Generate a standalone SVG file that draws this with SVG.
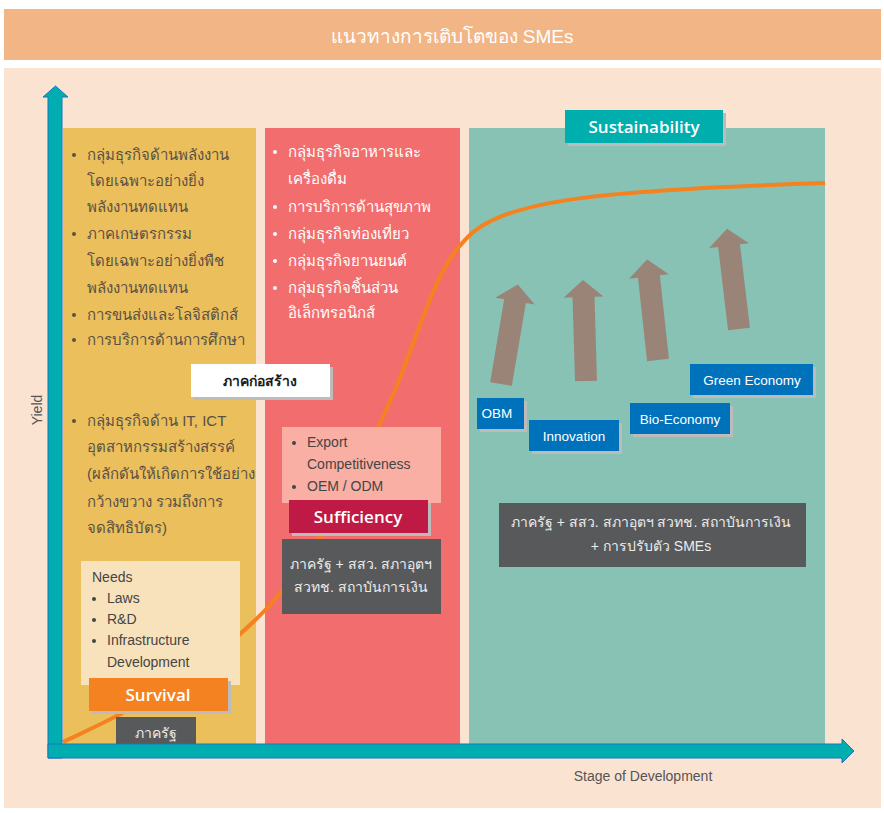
<svg xmlns="http://www.w3.org/2000/svg" xmlns:xlink="http://www.w3.org/1999/xlink" width="884" height="813" viewBox="0 0 884 813">
<style>
text{font-family:"Liberation Sans","Noto Sans",sans-serif;}
.c1{font-size:15px;fill:#5a5046;}
.c2{font-size:15px;fill:#ffffff;}
.nd{font-size:14px;fill:#454545;}
.lbl{font-size:17px;fill:#ffffff;text-anchor:middle;font-family:"Open Sans","Noto Sans",sans-serif;font-weight:600;}
.blue{fill:#0072BC;}
.bt{font-size:13.5px;fill:#ffffff;text-anchor:middle;}
.dk{fill:#58595B;}
.dt{font-size:14px;fill:#ececec;text-anchor:middle;}
.sh{fill:#bcbcbc;}
.axis{fill:#00ADB0;stroke:#1B75BC;stroke-width:1;}
</style>
<defs>
<path id="arr" d="M-11,0 L-11,-84 L-20,-84 L0,-101 L20,-84 L11,-84 L11,0 Z" fill="#9A8478"/>
</defs>
<rect x="0" y="0" width="884" height="813" fill="#ffffff"/>
<g id="header">
<rect x="4" y="9" width="877" height="51" fill="#F2B686"/>
<text x="452" y="43" font-size="19" fill="#ffffff" text-anchor="middle">แนวทางการเติบโตของ SMEs</text>
</g>
<rect x="4" y="68" width="877" height="740" fill="#FBE3D2"/>
<g id="col-survival">
<rect x="63" y="128" width="193" height="616" fill="#EBBF5C"/>
<g class="c1">
<circle cx="74" cy="155" r="2" fill="#5a5046"/>
<text x="87" y="160">กลุ่มธุรกิจด้านพลังงาน</text>
<text x="87" y="186">โดยเฉพาะอย่างยิ่ง</text>
<text x="87" y="212">พลังงานทดแทน</text>
<circle cx="74" cy="234" r="2" fill="#5a5046"/>
<text x="87" y="239">ภาคเกษตรกรรม</text>
<text x="87" y="266">โดยเฉพาะอย่างยิ่งพืช</text>
<text x="87" y="293">พลังงานทดแทน</text>
<circle cx="74" cy="315" r="2" fill="#5a5046"/>
<text x="87" y="320">การขนส่งและโลจิสติกส์</text>
<circle cx="74" cy="340" r="2" fill="#5a5046"/>
<text x="87" y="345">การบริการด้านการศึกษา</text>
<circle cx="74" cy="421" r="2" fill="#5a5046"/>
<text x="87" y="426">กลุ่มธุรกิจด้าน IT, ICT</text>
<text x="87" y="452">อุตสาหกรรมสร้างสรรค์</text>
<text x="87" y="479">(ผลักดันให้เกิดการใช้อย่าง</text>
<text x="87" y="507">กว้างขวาง รวมถึงการ</text>
<text x="87" y="533">จดสิทธิบัตร)</text>
</g>
</g>
<g id="col-sufficiency">
<rect x="265" y="128" width="195" height="616" fill="#F26D6D"/>
<g class="c2">
<circle cx="275" cy="152" r="2" fill="#ffffff"/>
<text x="288" y="157">กลุ่มธุรกิจอาหารและ</text>
<text x="288" y="184">เครื่องดื่ม</text>
<circle cx="275" cy="207" r="2" fill="#ffffff"/>
<text x="288" y="212">การบริการด้านสุขภาพ</text>
<circle cx="275" cy="234" r="2" fill="#ffffff"/>
<text x="288" y="239">กลุ่มธุรกิจท่องเที่ยว</text>
<circle cx="275" cy="261" r="2" fill="#ffffff"/>
<text x="288" y="266">กลุ่มธุรกิจยานยนต์</text>
<circle cx="275" cy="288" r="2" fill="#ffffff"/>
<text x="288" y="293">กลุ่มธุรกิจชิ้นส่วน</text>
<text x="288" y="318">อิเล็กทรอนิกส์</text>
</g>
</g>
<g id="col-sustainability">
<rect x="469" y="128" width="356" height="616" fill="#87C2B5"/>
</g>
<g id="curve">
<path d="M63,742 C120,715 200,680 270,605 C320,550 360,470 395,390 C420,330 435,270 465,240 C500,200 600,190 825,183" fill="none" stroke="#F58220" stroke-width="4"/>
</g>
<g id="growth-arrows">
<use xlink:href="#arr" href="#arr" transform="translate(501,384) rotate(9.6)"/>
<use xlink:href="#arr" href="#arr" transform="translate(586,381) rotate(-1.7)"/>
<use xlink:href="#arr" href="#arr" transform="translate(658,360) rotate(-6.2)"/>
<use xlink:href="#arr" href="#arr" transform="translate(739,329) rotate(-6.8)"/>
</g>
<g id="sustainability-label">
<rect class="sh" x="568" y="113" width="158" height="33"/>
<rect x="565" y="110" width="158" height="33" fill="#00AEAE"/>
<text class="lbl" x="644" y="133">Sustainability</text>
</g>
<g id="construction">
<rect class="sh" x="194" y="367" width="139" height="33"/>
<rect x="191" y="364" width="139" height="33" fill="#ffffff"/>
<text x="260" y="386" font-size="14" font-weight="bold" fill="#1a1a1a" text-anchor="middle">ภาคก่อสร้าง</text>
</g>
<g id="needs">
<rect x="81" y="561" width="159" height="124" fill="#F8E2BC"/>
<g class="nd">
<text x="92" y="582">Needs</text>
<circle cx="94" cy="599" r="2" fill="#454545"/>
<text x="107" y="603">Laws</text>
<circle cx="94" cy="620" r="2" fill="#454545"/>
<text x="107" y="624">R&amp;D</text>
<circle cx="94" cy="641" r="2" fill="#454545"/>
<text x="107" y="645">Infrastructure</text>
<text x="107" y="667">Development</text>
</g>
</g>
<g id="survival">
<rect class="sh" x="92" y="681" width="139" height="33"/>
<rect x="89" y="678" width="139" height="33" fill="#F58220"/>
<text class="lbl" x="158" y="701">Survival</text>
</g>
<g id="state1">
<rect class="dk" x="116" y="717" width="80" height="30"/>
<text class="dt" x="156" y="738">ภาครัฐ</text>
</g>
<g id="export">
<rect x="282" y="427" width="159" height="76" fill="#F9AFA3"/>
<g class="nd">
<circle cx="294" cy="443" r="2" fill="#454545"/>
<text x="307" y="447">Export</text>
<text x="307" y="469">Competitiveness</text>
<circle cx="294" cy="487" r="2" fill="#454545"/>
<text x="307" y="491">OEM / ODM</text>
</g>
</g>
<g id="sufficiency">
<rect class="sh" x="292" y="503" width="139" height="33"/>
<rect x="289" y="500" width="139" height="33" fill="#BE1A45"/>
<text class="lbl" x="358" y="523">Sufficiency</text>
</g>
<g id="state2">
<rect class="dk" x="282" y="539" width="159" height="75"/>
<text class="dt" x="361" y="569">ภาครัฐ + สสว. สภาอุตฯ</text>
<text class="dt" x="361" y="592">สวทช. สถาบันการเงิน</text>
</g>
<g id="obm">
<rect class="sh" x="480" y="401" width="47" height="31"/>
<rect class="blue" x="477" y="398" width="47" height="31"/>
<text class="bt" x="497" y="418">OBM</text>
</g>
<g id="innovation">
<rect class="sh" x="532" y="423" width="90" height="31"/>
<rect class="blue" x="529" y="420" width="90" height="31"/>
<text class="bt" x="574" y="441">Innovation</text>
</g>
<g id="bio-economy">
<rect class="sh" x="633" y="406" width="100" height="31"/>
<rect class="blue" x="630" y="403" width="100" height="31"/>
<text class="bt" x="680" y="424">Bio-Economy</text>
</g>
<g id="green-economy">
<rect class="sh" x="693" y="367" width="123" height="31"/>
<rect class="blue" x="690" y="364" width="123" height="31"/>
<text class="bt" x="752" y="385">Green Economy</text>
</g>
<g id="state3">
<rect class="dk" x="499" y="503" width="307" height="64"/>
<text class="dt" x="651" y="527">ภาครัฐ + สสว. สภาอุตฯ สวทช. สถาบันการเงิน</text>
<text class="dt" x="651" y="551">+ การปรับตัว SMEs</text>
</g>
<g id="axes">
<path class="axis" d="M48,758 L48,97 L43,97 L55.5,86 L68,97 L62,97 L62,758 Z"/>
<path class="axis" d="M48,744 L842,744 L842,739 L854,751 L842,763 L842,758 L48,758 Z"/>
<text x="643" y="781" font-size="14" fill="#555555" text-anchor="middle">Stage of Development</text>
<text x="0" y="0" font-size="14" fill="#555555" text-anchor="middle" transform="translate(42,410) rotate(-90)">Yield</text>
</g>
</svg>
